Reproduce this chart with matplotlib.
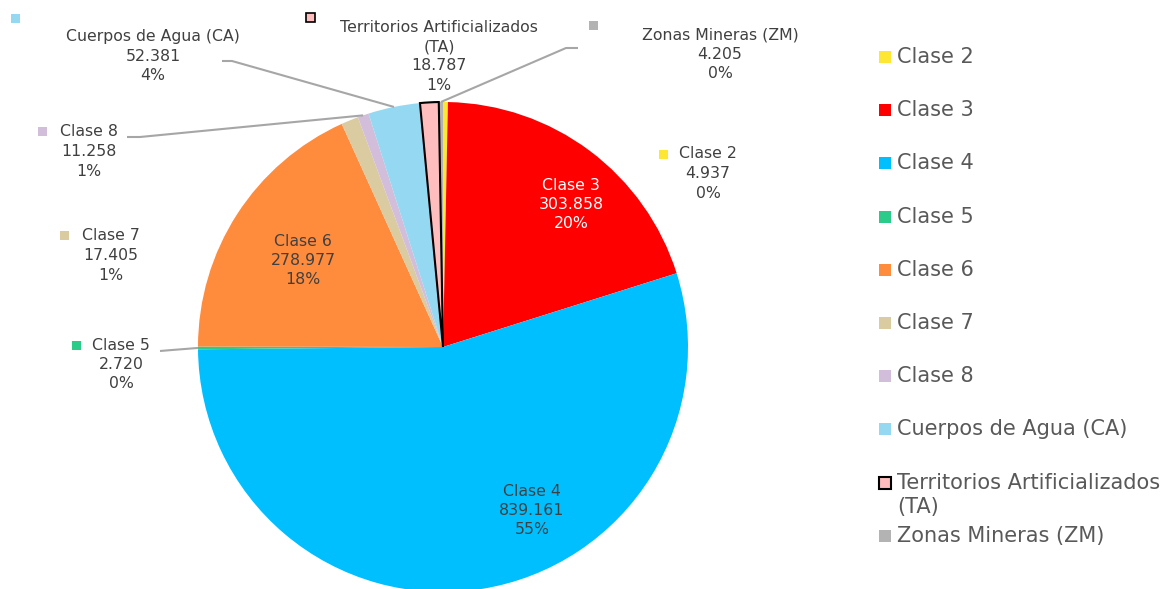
import matplotlib.pyplot as plt
from matplotlib.patches import Rectangle
import numpy as np

clases = ['Clase 2', 'Clase 3', 'Clase 4', 'Clase 5', 'Clase 6', 'Clase 7', 'Clase 8',
          'Cuerpos de Agua (CA)', 'Territorios Artificializados\n(TA)', 'Zonas Mineras (ZM)']
superficie = [4.937, 303.858, 839.161, 2.720, 278.977, 17.405, 11.258, 52.381, 18.787, 4.205]
colores = ['#FDE732', '#FF0000', '#00BFFF', '#2BCB8A', '#FF8B3D',
           '#DBCBA1', '#D2BEDA', '#94D8F2', '#FFBDBD', '#B3B3B3']

W, H = 1174, 589
CX, CY, R = 443, 347, 245
GRIS_TEXTO = '#404040'
GRIS_LEYENDA = '#595959'
GRIS_LINEA = '#A6A6A6'

# posicion de cada etiqueta: centro x, y de la primera linea, marcador, guia, color
etiquetas = {
    'Clase 2': (708, 154, (663.5, 154), None, GRIS_TEXTO),
    'Clase 3': (571, 185, None, None, 'white'),
    'Clase 4': (532, 491, None, None, GRIS_TEXTO),
    'Clase 5': (121, 345, (76.5, 345), [(172, 350), (160, 351)], GRIS_TEXTO),
    'Clase 6': (303, 241, None, None, GRIS_TEXTO),
    'Clase 7': (111, 236, (64.5, 235.5), None, GRIS_TEXTO),
    'Clase 8': (89, 132, (42.5, 131.5), [(140, 137), (127, 137)], GRIS_TEXTO),
    'Cuerpos de Agua (CA)': (153, 37, (15, 18), [(232, 61), (222, 61)], GRIS_TEXTO),
    'Territorios Artificializados\n(TA)': (439, 27, (310.5, 17.5), None, GRIS_TEXTO),
    'Zonas Mineras (ZM)': (720, 35, (593.5, 25), [(566, 48), (578, 48)], GRIS_TEXTO),
}


def porcentajes(valores):
    # redondeo por mayor resto para que sumen 100
    p = np.array(valores) / sum(valores) * 100
    base = np.floor(p).astype(int)
    faltan = 100 - base.sum()
    orden = np.argsort(-(p - base))
    base[orden[:faltan]] += 1
    return base


def formato(v):
    return f'{v:.3f}'


pct = porcentajes(superficie)

fig = plt.figure(figsize=(W / 100, H / 100), dpi=100)
ax = fig.add_axes([0, 0, 1, 1])

# eje y invertido: counterclock=True se ve en sentido horario
wedges, _ = ax.pie(superficie, colors=colores, startangle=-90, counterclock=True,
                   center=(CX, CY), radius=R, wedgeprops=dict(linewidth=0))
ta = clases.index('Territorios Artificializados\n(TA)')
wedges[ta].set_edgecolor('black')
wedges[ta].set_linewidth(1.5)
wedges[ta].set_zorder(3)

ax.set_xlim(0, W)
ax.set_ylim(H, 0)
ax.set_aspect('equal')
ax.axis('off')

paso = 19.5
for i, nombre in enumerate(clases):
    x, y, marcador, guia, color = etiquetas[nombre]
    lineas = nombre.split('\n') + [formato(superficie[i]), f'{pct[i]}%']
    for k, linea in enumerate(lineas):
        ax.text(x, y + k * paso, linea, ha='center', va='center',
                fontsize=11.3, color=color, family='DejaVu Sans')
    if marcador is not None:
        mx, my = marcador
        ec = 'black' if i == ta else colores[i]
        ax.add_patch(Rectangle((mx - 4.5, my - 4.5), 9, 9, facecolor=colores[i],
                               edgecolor=ec, linewidth=1.2 if i == ta else 0))
    if guia is not None:
        w = wedges[i]
        ang = np.deg2rad((w.theta1 + w.theta2) / 2)
        px = CX + R * np.cos(ang)
        py = CY + R * np.sin(ang)
        xs = [px] + [p[0] for p in guia]
        ys = [py] + [p[1] for p in guia]
        ax.plot(xs, ys, color=GRIS_LINEA, linewidth=1.5, solid_capstyle='butt')

# leyenda a la derecha
for i, nombre in enumerate(clases):
    y = 57 + 53.2 * i
    ec = 'black' if i == ta else colores[i]
    ax.add_patch(Rectangle((879, y - 6), 12, 12, facecolor=colores[i],
                           edgecolor=ec, linewidth=1.5 if i == ta else 0))
    for k, linea in enumerate(nombre.split('\n')):
        ax.text(897, y + k * 24, linea, ha='left', va='center',
                fontsize=15, color=GRIS_LEYENDA, family='DejaVu Sans')

plt.savefig('out.png', dpi=100)
